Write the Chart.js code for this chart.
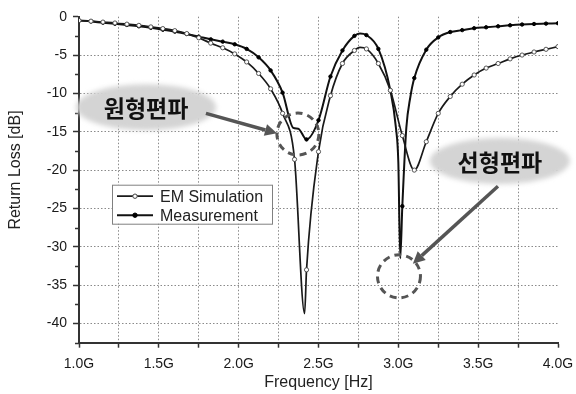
<!DOCTYPE html>
<html>
<head>
<meta charset="utf-8">
<script src="https://cdn.jsdelivr.net/npm/chart.js@4.4.1/dist/chart.umd.min.js"></script>
<style>
    html, body { margin: 0; padding: 0; background: #fff; }
    #wrap { width: 576px; height: 394px; position: relative; }
</style>
</head>
<body>
<div id="wrap"><canvas id="rlChart"></canvas></div>
<script>
// frequency in GHz, return loss in dB
var simFreq = [1.0, 1.075, 1.15, 1.225, 1.3, 1.375, 1.45, 1.525, 1.6, 1.675, 1.75, 1.825, 1.9, 1.975,
    2.05, 2.125, 2.2, 2.275, 2.35, 2.413, 2.425, 2.5, 2.575, 2.65, 2.725, 2.76, 2.8, 2.875, 2.95,
    3.025, 3.1, 3.175, 3.25, 3.325, 3.4, 3.475, 3.55, 3.625, 3.7, 3.775, 3.85, 3.925, 4.0];
var simLoss = [-0.5, -0.58, -0.7, -0.82, -0.97, -1.13, -1.33, -1.55, -1.82, -2.2, -2.75, -3.45, -4.05, -4.85,
    -5.9, -7.4, -9.4, -12.6, -18.6, -38.7, -33.0, -17.6, -10.3, -6.1, -4.4, -4.0, -4.2, -6.1, -9.6,
    -15.5, -20.0, -16.3, -12.6, -10.4, -8.8, -7.6, -6.7, -6.1, -5.5, -5.0, -4.6, -4.25, -3.9];

var measFreq = [1.0, 1.075, 1.15, 1.225, 1.3, 1.375, 1.45, 1.525, 1.6, 1.675, 1.75, 1.825, 1.9, 1.975,
    2.05, 2.125, 2.2, 2.275, 2.342, 2.373, 2.425, 2.5, 2.575, 2.65, 2.725, 2.76, 2.8, 2.875, 2.95,
    2.985, 3.0, 3.012, 3.025, 3.05, 3.075, 3.1, 3.175, 3.25, 3.325, 3.4, 3.475, 3.55, 3.625, 3.7,
    3.775, 3.85, 3.925, 4.0];
var measLoss = [-0.5, -0.62, -0.78, -0.92, -1.08, -1.25, -1.45, -1.7, -1.95, -2.25, -2.6, -2.95, -3.25, -3.6,
    -4.2, -5.3, -7.0, -9.9, -14.5, -14.6, -16.0, -13.5, -7.8, -4.4, -2.5, -2.2, -2.4, -4.2, -9.6,
    -14.5, -19.0, -31.5, -24.7, -14.5, -10.5, -8.0, -4.3, -2.7, -2.0, -1.75, -1.5, -1.38, -1.25, -1.12,
    -1.02, -0.95, -0.9, -0.85];

var xTickValues = [1.0, 1.25, 1.5, 1.75, 2.0, 2.25, 2.5, 2.75, 3.0, 3.25, 3.5, 3.75, 4.0];
var xTickLabels = ['1.0G', '', '1.5G', '', '2.0G', '', '2.5G', '', '3.0G', '', '3.5G', '', '4.0G'];
var yTickValues = [0, -5, -10, -15, -20, -25, -30, -35, -40];
var yMinorTicks = [-2.5, -7.5, -12.5, -17.5, -22.5, -27.5, -32.5, -37.5, -42.5];

var seriesNames = ['EM Simulation', 'Measurement'];

// callouts, placed in data units
var callouts = {
    circLabel: { x: 1.42, y: -11.8, text: '원형편파' },
    circArrow: { x1: 1.795, y1: -12.6, x2: 2.24, y2: -15.2 },
    circRing: { x: 2.371, y: -15.3, r: 21 },
    linLabel: { x: 3.636, y: -18.8, text: '선형편파' },
    linArrow: { x1: 3.624, y1: -22.1, x2: 3.091, y2: -32.2 },
    linRing: { x: 3.004, y: -33.85, r: 21.5 }
};

var latinFont = '"Liberation Sans", Arial, sans-serif';

function toPoints(freqs, values) {
    return freqs.map(function(f, i) { return { x: f, y: values[i] }; });
}

// markers only on the regular 0.075 GHz sweep points
function markerRadius(freqs, r) {
    return function(c) {
        var k = (freqs[c.dataIndex] - 1) / 0.075;
        return Math.abs(k - Math.round(k)) < 1e-6 ? r : 0;
    };
}

var extrasPlugin = {
    id: 'extras',
    afterDraw: function(chart) {
        var ctx = chart.ctx;
        var xs = chart.scales.x, ys = chart.scales.y;
        var area = chart.chartArea;
        ctx.save();

        // minor ticks on the y axis
        ctx.strokeStyle = '#333';
        ctx.lineWidth = 1.5;
        yMinorTicks.forEach(function(v) {
            var y = Math.round(ys.getPixelForValue(v)) + 0.5;
            ctx.beginPath();
            ctx.moveTo(area.left - 4, y);
            ctx.lineTo(area.left, y);
            ctx.stroke();
        });

        // axis titles
        ctx.fillStyle = '#222';
        ctx.font = '16px ' + latinFont;
        ctx.textAlign = 'center';
        ctx.textBaseline = 'middle';
        ctx.fillText('Frequency [Hz]', (area.left + area.right) / 2, 383);
        ctx.save();
        ctx.translate(16, 170);
        ctx.rotate(-Math.PI / 2);
        ctx.fillText('Return Loss [dB]', 0, 0);
        ctx.restore();

        // legend
        var lx = area.left + 33, ly = area.top + 168;
        ctx.fillStyle = '#fff';
        ctx.fillRect(lx, ly, 160, 39);
        ctx.strokeStyle = '#808080';
        ctx.lineWidth = 1;
        ctx.strokeRect(lx + 0.5, ly + 0.5, 160, 39);
        ctx.textAlign = 'left';
        ctx.font = '16px ' + latinFont;
        chart.data.datasets.forEach(function(ds, i) {
            var y = ly + 11.5 + i * 19;
            ctx.strokeStyle = ds.borderColor;
            ctx.lineWidth = ds.borderWidth;
            ctx.beginPath();
            ctx.moveTo(lx + 5, y);
            ctx.lineTo(lx + 41, y);
            ctx.stroke();
            ctx.beginPath();
            ctx.arc(lx + 23, y, 2.2, 0, Math.PI * 2);
            ctx.fillStyle = ds.pointBackgroundColor;
            ctx.fill();
            ctx.strokeStyle = ds.pointBorderColor;
            ctx.lineWidth = 1;
            ctx.stroke();
            ctx.fillStyle = '#222';
            ctx.fillText(seriesNames[i], lx + 48, y + 1);
        });

        function bubble(c) {
            var cx = xs.getPixelForValue(c.x), cy = ys.getPixelForValue(c.y);
            ctx.save();
            ctx.filter = 'blur(2.5px)';
            ctx.fillStyle = '#d4d4d4';
            ctx.beginPath();
            ctx.ellipse(cx, cy, 70, 23, 0, 0, Math.PI * 2);
            ctx.fill();
            ctx.restore();
            ctx.fillStyle = '#111';
            ctx.font = 'bold 23px "Noto Sans CJK KR", sans-serif';
            ctx.textAlign = 'center';
            ctx.textBaseline = 'middle';
            ctx.fillText(c.text, cx, cy + 1);
        }

        function arrow(a) {
            var x1 = xs.getPixelForValue(a.x1), y1 = ys.getPixelForValue(a.y1);
            var x2 = xs.getPixelForValue(a.x2), y2 = ys.getPixelForValue(a.y2);
            var ang = Math.atan2(y2 - y1, x2 - x1);
            var head = 12, w = 6;
            var bx = x2 - head * Math.cos(ang), by = y2 - head * Math.sin(ang);
            ctx.strokeStyle = '#555';
            ctx.lineWidth = 3.5;
            ctx.setLineDash([]);
            ctx.beginPath();
            ctx.moveTo(x1, y1);
            ctx.lineTo(bx, by);
            ctx.stroke();
            ctx.fillStyle = '#555';
            ctx.beginPath();
            ctx.moveTo(x2, y2);
            ctx.lineTo(bx + w * Math.sin(ang), by - w * Math.cos(ang));
            ctx.lineTo(bx - w * Math.sin(ang), by + w * Math.cos(ang));
            ctx.closePath();
            ctx.fill();
        }

        function ring(r) {
            ctx.strokeStyle = '#555';
            ctx.lineWidth = 3;
            ctx.setLineDash([7, 5]);
            ctx.beginPath();
            ctx.arc(xs.getPixelForValue(r.x), ys.getPixelForValue(r.y), r.r, 0, Math.PI * 2);
            ctx.stroke();
            ctx.setLineDash([]);
        }

        bubble(callouts.circLabel);
        arrow(callouts.circArrow);
        ring(callouts.circRing);
        bubble(callouts.linLabel);
        arrow(callouts.linArrow);
        ring(callouts.linRing);

        ctx.restore();
    }
};

var gridGray = '#8a8a8a';

new Chart(document.getElementById('rlChart'), {
    type: 'line',
    data: {
        datasets: [{
            label: seriesNames[0],
            data: toPoints(simFreq, simLoss),
            borderColor: '#1a1a1a',
            borderWidth: 1.7,
            pointRadius: markerRadius(simFreq, 2.1),
            pointBackgroundColor: '#fff',
            pointBorderColor: '#444',
            pointBorderWidth: 0.9,
            cubicInterpolationMode: 'monotone',
            fill: false
        }, {
            label: seriesNames[1],
            data: toPoints(measFreq, measLoss),
            borderColor: '#111',
            borderWidth: 2,
            pointRadius: markerRadius(measFreq, 1.7),
            pointBackgroundColor: '#000',
            pointBorderColor: '#000',
            pointBorderWidth: 1,
            cubicInterpolationMode: 'monotone',
            fill: false
        }]
    },
    options: {
        responsive: true,
        maintainAspectRatio: false,
        animation: false,
        events: [],
        layout: { padding: { left: 0, right: 18, top: 16.7, bottom: 0 } },
        plugins: {
            legend: { display: false },
            tooltip: { enabled: false }
        },
        scales: {
            x: {
                type: 'linear',
                min: 1,
                max: 4,
                afterBuildTicks: function(s) {
                    s.ticks = xTickValues.map(function(v) { return { value: v }; });
                },
                afterFit: function(s) {
                    s.height = 51.3;
                    s.paddingLeft = 0;
                    s.paddingRight = 0;
                },
                grid: {
                    color: function(c) {
                        return c.tick && (c.tick.value === 4 || c.tick.value === 1) ? 'rgba(0,0,0,0)' : gridGray;
                    },
                    lineWidth: 1,
                    tickLength: 5,
                    tickColor: '#333',
                    tickWidth: 1.5
                },
                border: { color: '#333', width: 2, dash: [1.5, 2] },
                ticks: {
                    autoSkip: false,
                    maxRotation: 0,
                    padding: 8,
                    color: '#1a1a1a',
                    font: { family: latinFont, size: 14 },
                    callback: function(v, i) { return xTickLabels[i]; }
                }
            },
            y: {
                type: 'linear',
                min: -42.5,
                max: 0,
                afterBuildTicks: function(s) {
                    s.ticks = yTickValues.map(function(v) { return { value: v }; });
                },
                afterFit: function(s) {
                    s.width = 79;
                    s.paddingTop = 0;
                    s.paddingBottom = 0;
                },
                grid: {
                    color: function(c) {
                        return c.tick && c.tick.value === 0 ? 'rgba(0,0,0,0)' : gridGray;
                    },
                    lineWidth: 1,
                    tickLength: 6,
                    tickColor: '#333',
                    tickWidth: 1.5
                },
                border: { color: '#333', width: 2, dash: [1.5, 2] },
                ticks: {
                    padding: 6,
                    color: '#1a1a1a',
                    font: { family: latinFont, size: 14 },
                    callback: function(v) { return String(v); }
                }
            }
        }
    },
    plugins: [extrasPlugin]
});
</script>
</body>
</html>
